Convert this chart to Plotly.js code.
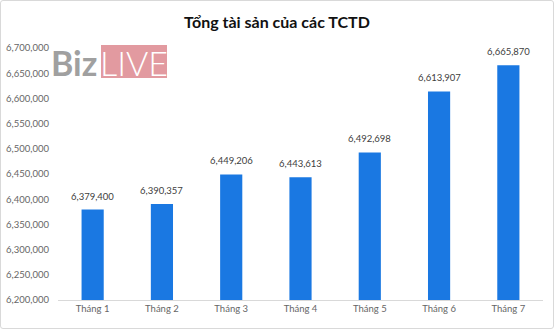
<!DOCTYPE html>
<html>
<head>
<meta charset="utf-8">
<script src="https://cdn.plot.ly/plotly-3.0.1.min.js"></script>
<style>
html,body{margin:0;padding:0;background:#fff;}
#wrap{position:relative;width:554px;height:329px;}
#chart{width:554px;height:329px;}
#frame{position:absolute;left:0;top:0;width:552px;height:327px;border:1px solid #d9d9d9;border-radius:3px;pointer-events:none;}
</style>
</head>
<body>
<div id="wrap"><div id="chart"></div><div id="frame"></div></div>
<script>
const categories = ["Tháng 1","Tháng 2","Tháng 3","Tháng 4","Tháng 5","Tháng 6","Tháng 7"];
const totalAssets = [6379400, 6390357, 6449206, 6443613, 6492698, 6613907, 6665870];
const yTickVals = [6200000,6250000,6300000,6350000,6400000,6450000,6500000,6550000,6600000,6650000,6700000];
const titleText = "Tổng tài sản của các TCTD";

const FONT = "Lato, 'Open Sans', sans-serif";

const trace = {
  type: 'bar',
  x: categories,
  y: totalAssets,
  marker: {color: '#1a78e2'},
  hoverinfo: 'x+y'
};

const valueLabels = categories.map((c, i) => ({
  x: c, y: totalAssets[i], xref: 'x', yref: 'y',
  text: totalAssets[i].toLocaleString('en-US'),
  showarrow: false, xanchor: 'center', yanchor: 'bottom', yshift: 6,
  font: {family: FONT, size: 9.5, color: '#404040'}
}));

const layout = {
  width: 554, height: 329,
  margin: {l: 58, r: 11, t: 48, b: 29},
  paper_bgcolor: '#ffffff',
  plot_bgcolor: '#ffffff',
  bargap: 0.68,
  showlegend: false,
  title: {
    text: '<b>' + titleText + '</b>',
    x: 0.5, xref: 'container', xanchor: 'center',
    y: 1 - 22/329, yref: 'container', yanchor: 'middle',
    font: {family: FONT, size: 16, color: '#111111'}
  },
  xaxis: {
    type: 'category',
    showgrid: false,
    showline: true, linecolor: '#d9d9d9', linewidth: 1,
    ticks: '',
    tickfont: {family: FONT, size: 9.5, color: '#666666'},
    fixedrange: true
  },
  yaxis: {
    range: [6200000, 6700000],
    tickvals: yTickVals,
    tickformat: ',',
    showgrid: false,
    zeroline: false,
    showline: false,
    ticks: '',
    ticklabelstandoff: 8,
    tickfont: {family: FONT, size: 9.5, color: '#666666'},
    fixedrange: true
  },
  shapes: [
    {type: 'rect', xref: 'paper', yref: 'paper',
     x0: (101-58)/485, x1: (167-58)/485, y0: (300-78)/252, y1: (300-45)/252,
     fillcolor: '#e29aa0', line: {width: 0}, layer: 'above'}
  ],
  annotations: [
    {text: '<b>Biz</b>', xref: 'paper', yref: 'paper', x: (99-58)/485, y: (300-62)/252,
     xanchor: 'right', yanchor: 'middle', showarrow: false,
     font: {family: FONT, size: 34, color: '#a0a0a0'}},
    {text: 'LIVE', xref: 'paper', yref: 'paper', x: (134-58)/485, y: (300-62)/252,
     xanchor: 'center', yanchor: 'middle', showarrow: false,
     font: {family: "Lato, sans-serif", size: 34, color: '#ffffff', weight: 300}}
  ].concat(valueLabels)
};

Plotly.newPlot('chart', [trace], layout, {displayModeBar: false, staticPlot: true});
</script>
</body>
</html>
